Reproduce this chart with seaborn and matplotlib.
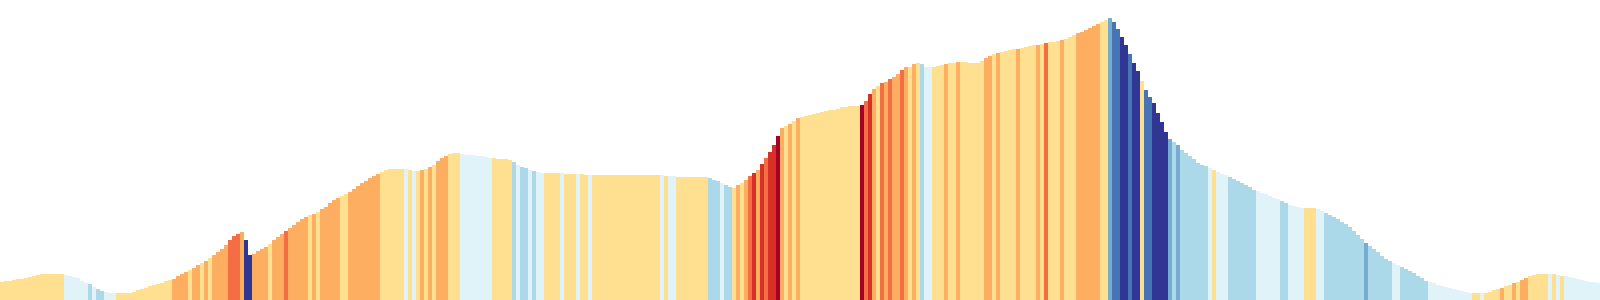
import matplotlib
matplotlib.use("Agg")
import matplotlib.pyplot as plt
import pandas as pd
import seaborn as sns

# Elevation profile, one value per distance step (arbitrary units)
elevation = [
    18, 19, 19, 20, 21, 21, 22, 23, 24, 25,
    26, 26, 26, 26, 26, 26, 25, 24, 23, 22,
    19, 17.5, 16, 13, 11, 9.5, 8, 7, 6.7, 6.7,
    6.7, 7, 7.5, 8.5, 10, 11.5, 12.5, 14, 15, 16,
    17.5, 19, 20, 21.5, 24, 26, 28, 30, 32, 35,
    37, 39.5, 42, 45, 48, 51, 55.5, 60, 64, 66.5,
    68.5, 60, 45, 46.5, 49, 51.5, 53.5, 56.5, 60, 63.5,
    66.5, 69.5, 72.5, 75.5, 78.5, 81, 83, 85, 86.5, 88.5,
    91, 93.5, 97, 100.5, 102.5, 104.5, 106.5, 108.5, 111, 114,
    117, 119.5, 122, 124, 126, 128, 130, 131.5, 131, 131,
    130.7, 130.7, 130, 129.5, 129.3, 130, 131.5, 133, 135.5, 139,
    142, 144.5, 146, 146.7, 146.7, 146, 145.5, 145, 144.7, 144.3,
    143.7, 143, 142.5, 142, 141.5, 141, 141, 140, 138, 135,
    133, 132, 130.5, 129, 128, 127.5, 127, 127, 127.3, 127.5,
    127.3, 126.5, 126, 126, 125.7, 125.7, 125.5, 125, 125.5, 125.5,
    125.5, 125.5, 125.5, 125.5, 125.5, 125.5, 125.5, 125.5, 125.5, 125.5,
    125.5, 125.5, 125.5, 125.5, 125.5, 125, 124.5, 124, 124, 123.5,
    123.5, 123.3, 123, 123, 123, 123, 123, 122.5, 120.5, 119,
    117.5, 115.5, 113, 112.5, 115, 117.5, 120.5, 124, 127.5, 130.5,
    136, 142.5, 148.5, 155, 164, 172, 174.5, 176.5, 179, 182,
    183.5, 184.5, 185.5, 186.5, 187.5, 188.5, 189.3, 190, 190.5, 191,
    193, 193.3, 193.7, 194, 194, 195.5, 199, 206, 211, 214,
    216.7, 218.5, 221, 223.5, 226, 230, 232.7, 233.5, 235.7, 237,
    236, 233, 232.7, 233.3, 234, 234.7, 236, 236.8, 237.3, 237.7,
    237.7, 237.7, 237.3, 237, 237, 239, 242.5, 244, 246, 247.5,
    248.5, 249, 250, 250.7, 251.5, 252.5, 253.5, 254, 254.7, 255.5,
    256, 257.5, 258, 258.5, 259.3, 260, 261, 263, 265, 266.7,
    268.5, 270, 272, 274.5, 276.5, 278.5, 280.5, 281.7, 278, 271,
    263, 255, 246, 237, 229, 219, 210, 203, 197, 187,
    178, 168, 161, 158, 155, 150, 147, 144, 141, 137.5,
    135.5, 134, 132, 130, 128, 126.5, 125, 123, 121, 119,
    117.5, 115.5, 113, 110.5, 109, 107.5, 106, 104, 102.5, 101,
    99, 97, 95.5, 94.5, 93.5, 92.5, 91.7, 91.7, 91.7, 91,
    89, 87, 85, 83, 81, 78.5, 76, 73, 69.5, 65,
    61, 57.5, 54.5, 51, 48, 44, 41.5, 39.5, 37, 35.5,
    33, 31, 29, 27, 24.5, 22, 19, 18, 17, 15.5,
    14.5, 13.5, 12.5, 11, 10, 9, 8.3, 7.5, 7.3, 7.3,
    7, 7.5, 8.5, 10, 11, 12.5, 14, 15.5, 17, 18.5,
    20.5, 22, 24, 25, 25.7, 26, 26, 26, 25.7, 25.3,
    24.5, 23.7, 23, 22, 21.2, 20.5, 19.5, 18.5, 17.7, 17,
]

# Gradient class of each step (N steepest descent ... K steepest climb)
grade_chunks = [
    "YYYYYYYYYY", "YYYYYYVVVV", "VVLVLLVVVY", "YYYYYYYYYY", "YYYOOOOYOO",
    "YOYOOOORRR", "ONNOOOOYOO", "OROOOOOYOY", "OOOOOYYOOO", "OOOOOYYYYY",
    "YVYVYOYOYO", "OOYYYVVVVV", "VVVYYYYYLV", "LLVLVVYYYY", "VYYYVYYVYY",
    "YYYYYYYYYY", "YYYYYVYVVY", "YYYYYYYLLL", "VLLYOYORDO", "DRDDKOYOYO",
    "YYYYYYYYYY", "YYYYYKRDOY", "ROROOROYOY", "LVVYYYOYYO", "YYYYYYOOYO",
    "YYYYOYYYYO", "YRYYYOYYYO", "OOOOOYYMBB", "NNBNNYBBNN", "NNMLMLLLLL",
    "LLVYVVVLLL", "LLLLVVVVVV", "LLVVVVYYYV", "VLLLLLLLLL", "LMLLLLLLVV",
    "LLLLLLLVVV", "VVVVVVVVYY", "VYYYYOYYOY", "OOYYYYYVYV", "YVVVVVVVVV",
]
grade = list("".join(grade_chunks))

grade_palette = {
    "N": "#313695", "B": "#4575b4", "M": "#74add1", "L": "#abd9e9",
    "V": "#e0f3f8", "Y": "#fee090", "O": "#fdae61", "R": "#f46d43",
    "D": "#d73027", "K": "#a50026",
}

assert len(elevation) == len(grade), (len(elevation), len(grade))

df = pd.DataFrame({
    "step": list(range(len(elevation))),
    "elevation": elevation,
    "grade": grade,
})

fig = plt.figure(figsize=(16, 3), dpi=100)
ax = fig.add_axes([0, 0, 1, 1])
sns.barplot(
    data=df, x="step", y="elevation", hue="grade", palette=grade_palette,
    dodge=False, width=1.0, saturation=1, legend=False, errorbar=None,
    linewidth=0, ax=ax,
)
for p in ax.patches:
    p.set_antialiased(False)
ax.set_xlim(-0.5, len(elevation) - 0.5)
ax.set_ylim(0, 300)
ax.axis("off")
fig.savefig("out.png", dpi=100, facecolor="white")
